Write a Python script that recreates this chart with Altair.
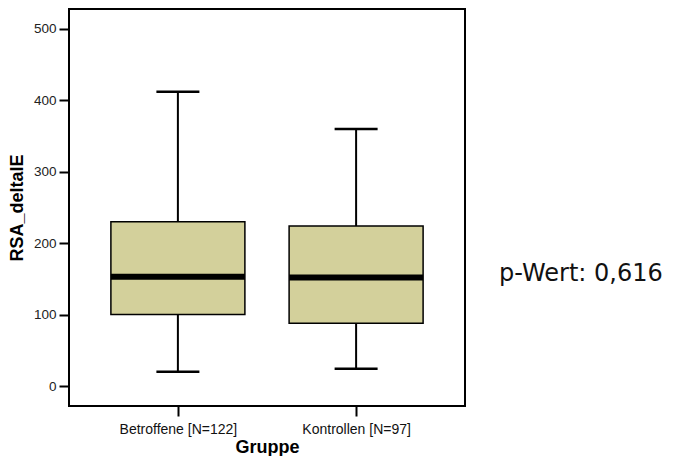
import altair as alt
import pandas as pd

groups = ["Betroffene [N=122]", "Kontrollen [N=97]"]
whisker_low = [20, 24]
q1 = [100, 88]
median = [153, 152]
q3 = [230, 224]
whisker_high = [412, 360]
p_text = "p-Wert: 0,616"

df = pd.DataFrame({
    "Gruppe": groups,
    "lo": whisker_low,
    "q1": q1,
    "med": median,
    "q3": q3,
    "hi": whisker_high,
})

x_enc = alt.X("Gruppe:N",
              scale=alt.Scale(type="point", padding=0.611),
              sort=groups,
              axis=alt.Axis(title="Gruppe", labelAngle=0, tickSize=10, tickWidth=2,
                            tickColor="black", domain=False, labelFontSize=14,
                            labelFont="Liberation Sans", labelColor="#111111",
                            labelPadding=6, titleFont="Liberation Sans",
                            titleFontSize=18, titleFontWeight="bold",
                            titleColor="black", titlePadding=2))
y_scale = alt.Scale(domain=[-28, 528], nice=False, zero=False)
y_axis = alt.Axis(title="RSA_deltaIE", values=[0, 100, 200, 300, 400, 500],
                  tickSize=10, tickWidth=2, tickColor="black", domain=False,
                  grid=False, labelFontSize=13.5, labelFont="Liberation Sans",
                  labelColor="#222222", labelPadding=3, titleFont="Liberation Sans",
                  titleFontSize=18, titleFontWeight="bold", titleColor="black",
                  titlePadding=7)

base = alt.Chart(df)

whisker = base.mark_rule(color="black", strokeWidth=2).encode(
    x=x_enc, y=alt.Y("lo:Q", scale=y_scale, axis=y_axis), y2="hi:Q")
cap_lo = base.mark_tick(color="black", size=43, thickness=2.5, opacity=1).encode(
    x=x_enc, y=alt.Y("lo:Q", scale=y_scale, axis=y_axis))
cap_hi = base.mark_tick(color="black", size=43, thickness=2.5, opacity=1).encode(
    x=x_enc, y=alt.Y("hi:Q", scale=y_scale, axis=y_axis))
box = base.mark_bar(size=134, fill="#D3D09B", stroke="black", strokeWidth=1.5,
                    opacity=1).encode(
    x=x_enc, y=alt.Y("q1:Q", scale=y_scale, axis=y_axis), y2="q3:Q")
med = base.mark_tick(color="black", size=134, thickness=6, opacity=1).encode(
    x=x_enc, y=alt.Y("med:Q", scale=y_scale, axis=y_axis))

note = alt.Chart(pd.DataFrame({"t": [p_text]})).mark_text(
    align="left", baseline="alphabetic", font="DejaVu Sans", fontSize=24,
    color="#111111").encode(
    x=alt.value(430), y=alt.value(272), text="t:N")

chart = alt.layer(whisker, cap_lo, cap_hi, box, med, note).properties(
    width=396, height=397,
    autosize=alt.AutoSizeParams(type="none"),
    padding={"left": 61, "top": 1, "right": 215, "bottom": 50},
    background="white",
).configure_view(stroke="black", strokeWidth=2)

chart.save("out.html", embed_options={"renderer": "svg", "actions": False})
